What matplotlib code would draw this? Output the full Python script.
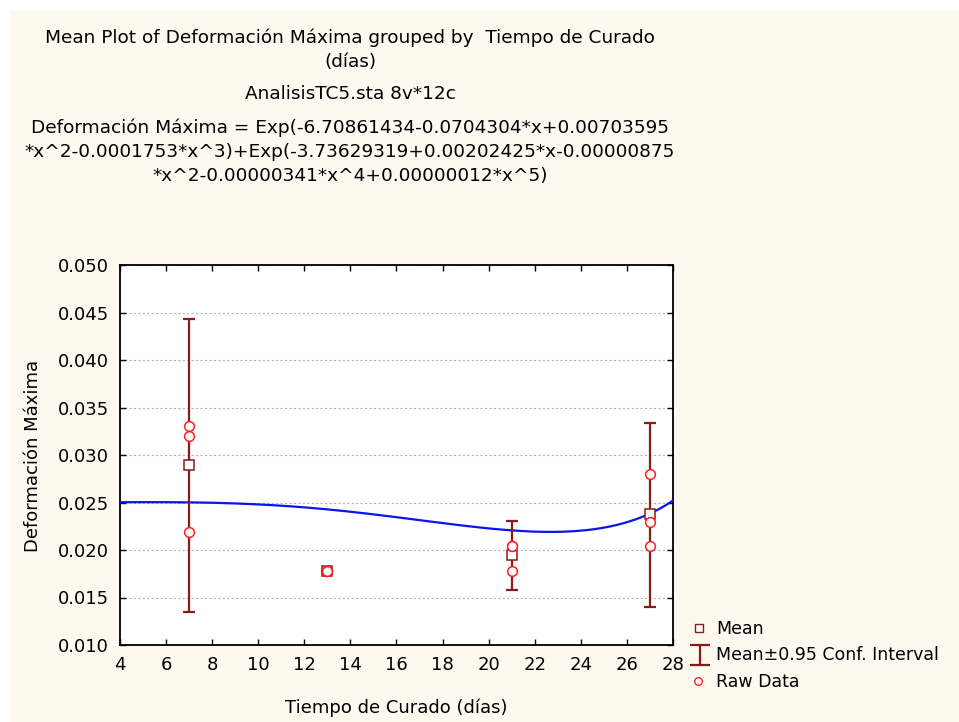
import numpy as np
import matplotlib
matplotlib.use("Agg")
import matplotlib.pyplot as plt
from matplotlib.patches import Rectangle

# ---- data ----
tiempo = [7, 13, 21, 27]
raw_x = [7, 7, 7, 13, 13, 13, 21, 21, 21, 27, 27, 27]
raw_y = [0.0331, 0.0320, 0.0219, 0.0178, 0.0178, 0.0178,
         0.0204, 0.0204, 0.0178, 0.0280, 0.0230, 0.0204]
means = [0.0290, 0.0178, 0.0195, 0.0238]
ci_low = [0.0135, 0.0178, 0.0158, 0.0140]
ci_high = [0.0443, 0.0178, 0.0231, 0.0334]

# coefficients of the fit shown in the heading
coef_a = [-6.70861434, -0.0704304, 0.00703595, -0.0001753]
coef_b = [-3.73629319, 0.00202425, -0.00000875, 0.0, -0.00000341, 0.00000012]

title_lines = [
    "Mean Plot of Deformación Máxima grouped by  Tiempo de Curado",
    "(días)",
    "AnalisisTC5.sta 8v*12c",
    "Deformación Máxima = Exp(-6.70861434-0.0704304*x+0.00703595",
    "*x^2-0.0001753*x^3)+Exp(-3.73629319+0.00202425*x-0.00000875",
    "*x^2-0.00000341*x^4+0.00000012*x^5)",
]
xticks = list(range(4, 29, 2))
yticks = [0.010, 0.015, 0.020, 0.025, 0.030, 0.035, 0.040, 0.045, 0.050]

plt.rcParams['font.family'] = ['DejaVu Sans']
W, H = 959, 722
fig = plt.figure(figsize=(W / 100, H / 100), dpi=100, facecolor="white")
fig.patches.append(Rectangle((10 / W, 0), 1, 1 - 10 / H, transform=fig.transFigure,
                             facecolor="#fdf9ef", edgecolor="none", zorder=-10))

ax = fig.add_axes([120 / W, 1 - 645 / H, 553 / W, 380 / H])
ax.set_facecolor("white")

dark = "#8b1a1a"
red = "#ff2020"

xs = np.linspace(4, 28.5, 400)
fit = np.exp(np.polyval(coef_a[::-1], xs)) + np.exp(np.polyval(coef_b[::-1], xs))
ax.plot(xs, fit, color="#0a14f0", lw=1.6, zorder=3)

err = [np.subtract(means, ci_low), np.subtract(ci_high, means)]
ax.errorbar(tiempo, means, yerr=err, fmt="none", ecolor=dark, elinewidth=1.6,
            capsize=4, capthick=1.6, zorder=4)
ax.plot(tiempo, means, ls="none", marker="s", ms=6.5, mfc="white", mec=dark,
        mew=1.1, zorder=5)
ax.plot(raw_x, raw_y, ls="none", marker="o", ms=7, mfc="white", mec=red,
        mew=1.1, zorder=6)

ax.set_xlim(4, 28)
ax.set_ylim(0.010, 0.050)
ax.set_xticks(xticks)
ax.set_yticks(yticks)
ax.set_yticklabels([f"{v:.3f}" for v in yticks])
ax.tick_params(direction="in", length=4, width=1, labelsize=13, pad=8,
               top=True, right=True)
for sp in ax.spines.values():
    sp.set_linewidth(1.3)
ax.yaxis.grid(True, color="#b4b4b4", ls=(0, (2, 2)), lw=0.8)
ax.set_axisbelow(True)

fig.text(396 / W, 1 - 708 / H, "Tiempo de Curado (días)", ha="center", va="center",
         fontsize=13)
fig.text(33 / W, 1 - 456 / H, "Deformación Máxima", ha="center", va="center",
         rotation=90, fontsize=13)

title_y = [38, 62, 94, 128, 152, 176]
for txt, y in zip(title_lines, title_y):
    fig.text(350 / W, 1 - y / H, txt, ha="center", va="center", fontsize=13.3)

# legend
lax = fig.add_axes([0, 0, 1, 1])
lax.set_xlim(0, W)
lax.set_ylim(H, 0)
lax.axis("off")
lax.plot([699], [628], ls="none", marker="s", ms=5.5, mfc="white", mec=dark, mew=1)
lax.errorbar([700], [655], yerr=[[10], [10]], fmt="none", ecolor=dark,
             elinewidth=1.6, capsize=7, capthick=1.6)
lax.plot([698], [681], ls="none", marker="o", ms=5.5, mfc="white", mec=red, mew=1)
for txt, y in zip(["Mean", "Mean±0.95 Conf. Interval", "Raw Data"], [629, 655, 682]):
    lax.text(716, y, txt, ha="left", va="center", fontsize=12.5)

fig.savefig("out.png", dpi=100, facecolor=fig.get_facecolor())
